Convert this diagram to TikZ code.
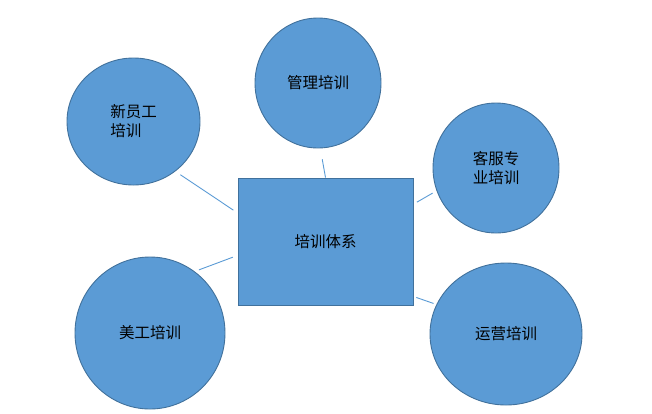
\documentclass[tikz,border=0pt]{standalone}
\usepackage{fontspec}
\newfontfamily\cjk{Noto Sans CJK SC}
\usetikzlibrary{shapes.geometric}
\definecolor{boxblue}{HTML}{5B9BD5}
\definecolor{edgeblue}{HTML}{41719C}

\begin{document}
\begin{tikzpicture}[x=1pt, y=-1pt,
  topic/.style={ellipse, draw=edgeblue, fill=boxblue, line width=0.9pt, inner sep=0pt,
    font=\cjk\fontsize{15.5pt}{19pt}\selectfont, align=left},
  hub/.style={rectangle, draw=edgeblue, fill=boxblue, line width=0.9pt, inner sep=0pt,
    minimum width=175pt, minimum height=127pt, font=\cjk\fontsize{15.5pt}{19pt}\selectfont},
  link/.style={draw=boxblue, line width=0.9pt}]
  \useasboundingbox (0,0) rectangle (652,413);
  \node[hub] (sys) at (325.5,241.5) {培训体系};
  \node[topic, minimum width=133pt, minimum height=127pt] (xin) at (133.5,121.5) {新员工\\培训};
  \node[topic, minimum width=126pt, minimum height=130pt] (gl) at (318,83) {管理培训};
  \node[topic, minimum width=126pt, minimum height=130pt] (kf) at (496,168) {客服专\\业培训};
  \node[topic, minimum width=150pt, minimum height=152pt] (mg) at (150,333) {美工培训};
  \node[topic, minimum width=152pt, minimum height=142pt] (yy) at (506,334) {运营培训};
  % connectors stop short of the circles
  \draw[link, shorten <=6pt, shorten >=5pt] (xin.-50) -- (sys.162);
  \draw[link, shorten <=11pt] (gl.-88) -- (sys.north);
  \draw[link, shorten <=4pt, shorten >=4.5pt] (sys.23) -- (kf.201);
  \draw[link, shorten <=4.5pt, shorten >=5pt] (mg.54) -- (sys.189);
  \draw[link, shorten <=3pt, shorten >=3pt] (sys.-32) -- (yy.157);
\end{tikzpicture}
\end{document}
